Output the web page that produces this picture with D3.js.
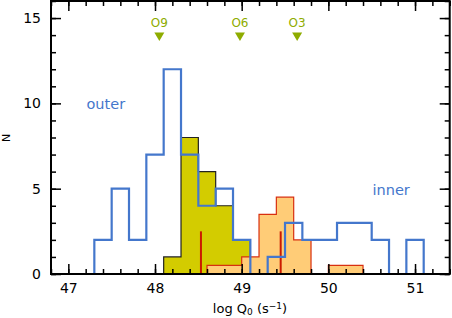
<!DOCTYPE html>
<html>
<head>
<meta charset="utf-8">
<title>logQ0 histogram</title>
<script src="https://d3js.org/d3.v7.min.js"></script>
<style>
  body { margin: 0; background: #fff; }
  text { font-family: "DejaVu Sans", sans-serif; }
</style>
</head>
<body>
<svg id="chart" width="452" height="318"></svg>
<script>
// histogram data, bins 0.2 dex wide
const binWidth = 0.2
const outerStart = 47.3
const outerCounts = [2, 5, 2, 7, 12, 7, 4, 5, 2]
const innerStart = 49.3
const innerCounts = [1, 3, 2, 2, 3, 3, 2, 0, 2]
const yellowStart = 48.1
const yellowCounts = [1, 8, 6, 4, 2]
const orangeStart = 48.6
const orangeCounts = [0.5, 0.5, 1, 3.5, 4.5, 2, 0, 0.5, 0.5]

// vertical red markers
const markerX = [48.53, 49.45]
const markerH = [2.5, 2.5]

// spectral type arrows at the top
const typeLabels = ["O9", "O6", "O3"]
const typeX = [48.05, 48.98, 49.64]

const xTicks = [47, 48, 49, 50, 51]
const yTicks = [0, 5, 10, 15]
const xMinor = d3.range(46.8, 51.41, 0.2).map(d => +d.toFixed(1))
const yMinor = d3.range(0, 17, 1)

const svg = d3.select("#chart")
const pLeft = 51, pRight = 449.7, pTop = 1, pBottom = 274

const x = d3.scaleLinear().domain([46.8, 51.4]).range([pLeft, pRight])
const y = d3.scaleLinear().domain([0, 16]).range([pBottom, pTop])

function stepPoints(start, counts) {
    let pts = [[start, 0]]
    counts.forEach((c, i) => {
        pts.push([start + i * binWidth, c])
        pts.push([start + (i + 1) * binWidth, c])
    })
    pts.push([start + counts.length * binWidth, 0])
    return pts
}

const line = d3.line().x(d => x(d[0])).y(d => y(d[1]))

// yellow filled histogram
svg.append("path")
    .attr("d", line(stepPoints(yellowStart, yellowCounts)) + "Z")
    .attr("fill", "#d3cc00")
    .attr("stroke", "#222")
    .attr("stroke-width", 1.2)

// orange filled histogram
svg.append("path")
    .attr("d", line(stepPoints(orangeStart, orangeCounts)) + "Z")
    .attr("fill", "#ffcc77")
    .attr("stroke", "#d83010")
    .attr("stroke-width", 1.2)

// red markers
svg.selectAll(".marker").data(markerX).enter().append("line")
    .attr("class", "marker")
    .attr("x1", d => x(d)).attr("x2", d => x(d))
    .attr("y1", y(0)).attr("y2", (d, i) => y(markerH[i]))
    .attr("stroke", "#cc1a00")
    .attr("stroke-width", 2)

// blue outlines
for (let [s, c] of [[outerStart, outerCounts], [innerStart, innerCounts]]) {
    svg.append("path")
        .attr("d", line(stepPoints(s, c)))
        .attr("fill", "none")
        .attr("stroke", "#4477cc")
        .attr("stroke-width", 2.2)
}

// axes, ticks pointing inward on all sides
function addAxis(axisFn, scale, vals, size, transform, labels) {
    let a = axisFn(scale).tickValues(vals).tickSize(-size).tickPadding(labels ? 9 : 0)
    a.tickFormat(labels ? d3.format("d") : "")
    let g = svg.append("g").attr("transform", transform).call(a)
    g.select(".domain").remove()
    g.selectAll(".tick line").attr("stroke", "#000").attr("stroke-width", 1.5)
    g.selectAll("text").style("font-size", "14px").attr("fill", "#000")
    return g
}
addAxis(d3.axisBottom, x, xMinor, 5, `translate(0,${pBottom})`, false)
addAxis(d3.axisBottom, x, xTicks, 10, `translate(0,${pBottom})`, true)
addAxis(d3.axisTop, x, xMinor, 5, `translate(0,${pTop})`, false)
addAxis(d3.axisTop, x, xTicks, 10, `translate(0,${pTop})`, false)
addAxis(d3.axisLeft, y, yMinor, 5, `translate(${pLeft},0)`, false)
addAxis(d3.axisLeft, y, yTicks, 10, `translate(${pLeft},0)`, true)
    .selectAll("text").attr("x", -10)
addAxis(d3.axisRight, y, yMinor, 5, `translate(${pRight},0)`, false)
addAxis(d3.axisRight, y, yTicks, 10, `translate(${pRight},0)`, false)

svg.append("rect")
    .attr("x", pLeft).attr("y", pTop)
    .attr("width", pRight - pLeft).attr("height", pBottom - pTop)
    .attr("fill", "none").attr("stroke", "#000").attr("stroke-width", 2)

// spectral type arrows
const green = "#8eac00"
typeX.forEach((v, i) => {
    let cx = x(v)
    svg.append("path")
        .attr("d", `M${cx - 5},32.5L${cx + 5},32.5L${cx},41Z`)
        .attr("fill", green)
    svg.append("text")
        .attr("x", cx).attr("y", 27)
        .attr("text-anchor", "middle")
        .style("font-size", "12px")
        .attr("fill", green)
        .text(typeLabels[i])
})

// labels
svg.append("text").attr("x", 86.5).attr("y", 109)
    .style("font-size", "14.5px").attr("fill", "#4477cc").text("outer")
svg.append("text").attr("x", 372.5).attr("y", 195)
    .style("font-size", "14.5px").attr("fill", "#4477cc").text("inner")

let xl = svg.append("text").attr("x", 250).attr("y", 312.5)
    .attr("text-anchor", "middle").style("font-size", "13px")
xl.append("tspan").text("log Q")
xl.append("tspan").attr("baseline-shift", "-25%").style("font-size", "9px").text("0")
xl.append("tspan").text(" (s")
xl.append("tspan").attr("baseline-shift", "40%").style("font-size", "9px").text("\u22121")
xl.append("tspan").text(")")

svg.append("text")
    .attr("transform", "translate(10,138) rotate(-90)")
    .attr("text-anchor", "middle")
    .style("font-size", "11px")
    .text("N")
</script>
</body>
</html>
